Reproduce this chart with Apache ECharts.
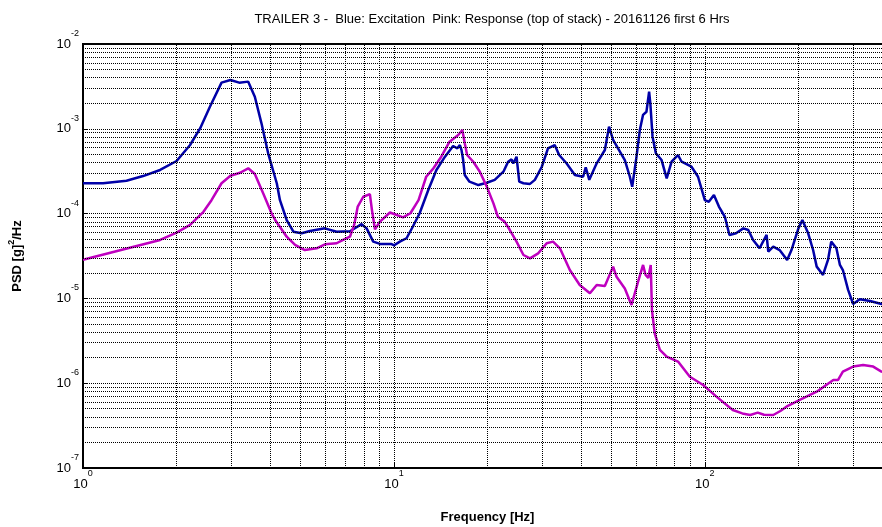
<!DOCTYPE html>
<html>
<head>
<meta charset="utf-8">
<script src="https://cdn.jsdelivr.net/npm/echarts@6/dist/echarts.min.js"></script>
<style>html,body{margin:0;padding:0;background:#fff;}#c{width:882px;height:527px;}</style>
</head>
<body>
<div id="c"></div>
<script>
// ---- data (frequency in Hz, PSD in g^2/Hz) ----
const titleText = 'TRAILER 3 -  Blue: Excitation  Pink: Response (top of stack) - 20161126 first 6 Hrs';
const xName = 'Frequency [Hz]';
const yMin = 1e-7, yMax = 1e-2, xMin = 1, xMax = 400;
const xMinorGrid = [2,3,4,5,6,7,8,9,20,30,40,50,60,70,80,90,200,300];
const yMinorGrid = [2e-7,3e-7,4e-7,5e-7,6e-7,7e-7,8e-7,9e-7,2e-6,3e-6,4e-6,5e-6,6e-6,7e-6,8e-6,9e-6,2e-5,3e-5,4e-5,5e-5,6e-5,7e-5,8e-5,9e-5,2e-4,3e-4,4e-4,5e-4,6e-4,7e-4,8e-4,9e-4,2e-3,3e-3,4e-3,5e-3,6e-3,7e-3,8e-3,9e-3];

const blueFreq = [1,1.16,1.38,1.56,1.77,2.0,2.21,2.38,2.56,2.79,2.98,3.18,3.40,3.57,3.75,3.94,4.20,4.30,4.52,4.75,5.05,5.37,6.0,6.54,7.22,7.87,8.17,8.58,9.02,9.83,10.02,10.45,10.98,11.5,12.1,12.9,13.7,14.6,15.5,16.0,16.3,16.5,16.7,16.9,17.5,18.7,19.9,21.1,22.5,23.3,23.9,24.2,24.8,25.3,26.1,27.4,28.4,29.9,31.3,32.9,34.0,35.9,38.2,40.6,41.4,42.5,44.9,47.7,49.2,50.7,55.3,57.4,58.4,60.3,61.8,63.3,64.9,66.2,66.8,67.9,69.6,72.6,75.4,78.2,82.0,84.2,90.6,95.1,100,103,107,111,116,120,126,133,138,143,150,158,160,166,174,184,190,200,206,215,223,229,240,249,255,265,272,278,289,300,315,340,370,400];
const blueVal = [2.28e-4,2.28e-4,2.44e-4,2.77e-4,3.27e-4,4.17e-4,6.44e-4,1.01e-3,1.82e-3,3.5e-3,3.76e-3,3.5e-3,3.6e-3,2.39e-3,1.16e-3,5.14e-4,2.28e-4,1.44e-4,8.4e-5,6.12e-5,5.86e-5,6.24e-5,6.7e-5,6.12e-5,6.2e-5,7.5e-5,6.7e-5,4.67e-5,4.39e-5,4.37e-5,4.23e-5,4.67e-5,5.12e-5,7.0e-5,1.01e-4,1.9e-4,3.27e-4,4.69e-4,6.27e-4,5.89e-4,6.44e-4,5.6e-4,4.28e-4,2.85e-4,2.38e-4,2.17e-4,2.31e-4,2.5e-4,3.12e-4,4.09e-4,4.36e-4,3.9e-4,4.69e-4,2.38e-4,2.28e-4,2.24e-4,2.5e-4,3.57e-4,5.89e-4,6.44e-4,4.91e-4,3.92e-4,2.85e-4,2.72e-4,3.52e-4,2.5e-4,3.92e-4,5.62e-4,1.06e-3,7.38e-4,4.28e-4,2.72e-4,2.07e-4,4.69e-4,9.68e-4,1.46e-3,1.59e-3,2.74e-3,2.0e-3,8.07e-4,5.14e-4,4.28e-4,2.6e-4,4.09e-4,4.91e-4,4.09e-4,3.57e-4,2.72e-4,1.44e-4,1.38e-4,1.66e-4,1.21e-4,9.18e-5,5.6e-5,5.86e-5,6.7e-5,6.4e-5,4.89e-5,3.9e-5,5.6e-5,3.56e-5,4.07e-5,3.72e-5,2.84e-5,3.72e-5,6.7e-5,8.41e-5,5.86e-5,3.72e-5,2.37e-5,1.89e-5,2.84e-5,4.67e-5,3.9e-5,2.48e-5,2.16e-5,1.26e-5,8.6e-6,9.75e-6,9.3e-6,8.6e-6,8.4e-6];

const pinkFreq = [1,1.77,2.0,2.21,2.44,2.59,2.79,2.98,3.2,3.40,3.57,3.8,4.04,4.15,4.52,4.81,5.17,5.64,6.0,6.54,6.79,7.22,7.45,7.65,7.97,8.37,8.5,8.69,9.02,9.71,10.7,11.3,12.0,12.7,13.4,14.2,15.1,16.1,16.6,16.9,17.2,18.0,18.9,19.9,20.9,21.6,22.7,23.6,24.8,26.1,27.4,29.1,31.0,32.5,34.2,36.8,39.6,42.7,44.9,47.7,50.7,52.0,55.3,58.1,61.0,63.3,64.5,65.8,67.0,67.6,69.0,71.7,75.4,82.0,89.5,98.8,109,123,132,140,148,155,166,175,183,202,229,259,268,278,300,323,348,370,400];
const pinkVal = [2.85e-5,4.89e-5,5.96e-5,7.35e-5,1.05e-4,1.44e-4,2.28e-4,2.8e-4,3.03e-4,3.42e-4,2.93e-4,1.73e-4,1.01e-4,8.4e-5,5.34e-5,4.27e-5,3.72e-5,3.9e-5,4.35e-5,4.47e-5,4.79e-5,5.34e-5,7.35e-5,1.21e-4,1.58e-4,1.7e-4,1.1e-4,6.53e-5,8.04e-5,1.03e-4,9.03e-5,1.01e-4,1.44e-4,2.72e-4,3.42e-4,4.69e-4,7.05e-4,8.45e-4,9.68e-4,6.74e-4,4.91e-4,4.09e-4,3.12e-4,2.07e-4,1.32e-4,9.18e-5,8.04e-5,6.4e-5,4.67e-5,3.25e-5,2.97e-5,3.4e-5,4.47e-5,4.67e-5,3.9e-5,2.16e-5,1.44e-5,1.15e-5,1.44e-5,1.4e-5,2.37e-5,1.8e-5,1.31e-5,8.36e-6,1.58e-5,2.48e-5,1.89e-5,1.74e-5,2.48e-5,7.3e-6,3.87e-6,2.47e-6,2.06e-6,1.8e-6,1.19e-6,9.53e-7,6.94e-7,4.83e-7,4.4e-7,4.22e-7,4.5e-7,4.25e-7,4.22e-7,4.7e-7,5.28e-7,6.34e-7,7.94e-7,1.09e-6,1.09e-6,1.37e-6,1.57e-6,1.64e-6,1.57e-6,1.37e-6,1.25e-6];

// ---- build ----
const blueData = blueFreq.map((f, i) => [f, blueVal[i]]);
const pinkData = pinkFreq.map((f, i) => [f, pinkVal[i]]);
const gridLine = { type: [1, 1], color: '#000', width: 1 };
const FONT = 'Liberation Sans, Arial, sans-serif';

function powLabel(v) {
  const e = Math.log10(v);
  if (Math.abs(e - Math.round(e)) > 1e-6) return '';
  return '{b|10}{s|' + Math.round(e) + '}';
}
const powRich = {
  b: { fontSize: 13, fontFamily: FONT, color: '#000', lineHeight: 30, verticalAlign: 'middle' },
  s: { fontSize: 9, fontFamily: FONT, color: '#000', lineHeight: 9, verticalAlign: 'top' }
};

const markData = xMinorGrid.map(v => [{ coord: [v, yMin] }, { coord: [v, yMax] }])
  .concat(yMinorGrid.map(v => [{ coord: [xMin, v] }, { coord: [xMax, v] }]));

const chart = echarts.init(document.getElementById('c'), null, { renderer: 'canvas' });
chart.setOption({
  animation: false,
  backgroundColor: '#fff',
  title: {
    text: titleText, left: 487, top: 8, textAlign: 'center',
    textStyle: { fontSize: 13, fontWeight: 'normal', fontFamily: FONT, color: '#000' }
  },
  grid: {
    left: 83, top: 44, right: -10, bottom: 59, containLabel: false, outerBoundsMode: 'none',
    show: true, borderColor: '#000', borderWidth: 2, backgroundColor: 'transparent'
  },
  xAxis: {
    type: 'log', logBase: 10, min: xMin, max: xMax,
    name: xName, nameLocation: 'middle', nameGap: 43,
    nameTextStyle: { fontSize: 13, fontWeight: 'bold', fontFamily: FONT, color: '#000' },
    axisLine: { show: true, lineStyle: { color: '#000', width: 2 } },
    axisTick: { show: true, inside: true, length: 5, lineStyle: { color: '#000' } },
    axisLabel: { margin: 1, formatter: powLabel, rich: powRich, showMaxLabel: false },
    splitLine: { show: true, lineStyle: gridLine }
  },
  yAxis: {
    type: 'log', logBase: 10, min: yMin, max: yMax, splitNumber: 5,
    name: '{a|PSD [g]}{s|2}{a|/Hz}', nameLocation: 'middle', nameGap: 56, nameRotate: 90,
    nameTextStyle: {
      rich: {
        a: { fontSize: 13, fontWeight: 'bold', fontFamily: FONT, color: '#000', lineHeight: 20, verticalAlign: 'middle' },
        s: { fontSize: 9, fontWeight: 'bold', fontFamily: FONT, color: '#000', lineHeight: 9, verticalAlign: 'top' }
      }
    },
    axisLine: { show: true, lineStyle: { color: '#000', width: 2 } },
    axisTick: { show: true, inside: true, length: 5, lineStyle: { color: '#000' } },
    axisLabel: { margin: 4, formatter: powLabel, rich: powRich },
    splitLine: { show: true, lineStyle: gridLine }
  },
  series: [
    {
      type: 'line', data: [], z: 1, silent: true,
      markLine: {
        silent: true, symbol: 'none', animation: false,
        label: { show: false },
        lineStyle: { type: [1, 1], color: '#000', width: 1 },
        emphasis: { disabled: true },
        data: markData
      }
    },
    {
      name: 'Excitation', type: 'line', data: blueData, showSymbol: false, z: 3,
      lineStyle: { color: '#0000A8', width: 2.5 }, itemStyle: { color: '#0000A8' }
    },
    {
      name: 'Response', type: 'line', data: pinkData, showSymbol: false, z: 4,
      lineStyle: { color: '#BF00BF', width: 2.5 }, itemStyle: { color: '#BF00BF' }
    }
  ]
});
</script>
</body>
</html>
